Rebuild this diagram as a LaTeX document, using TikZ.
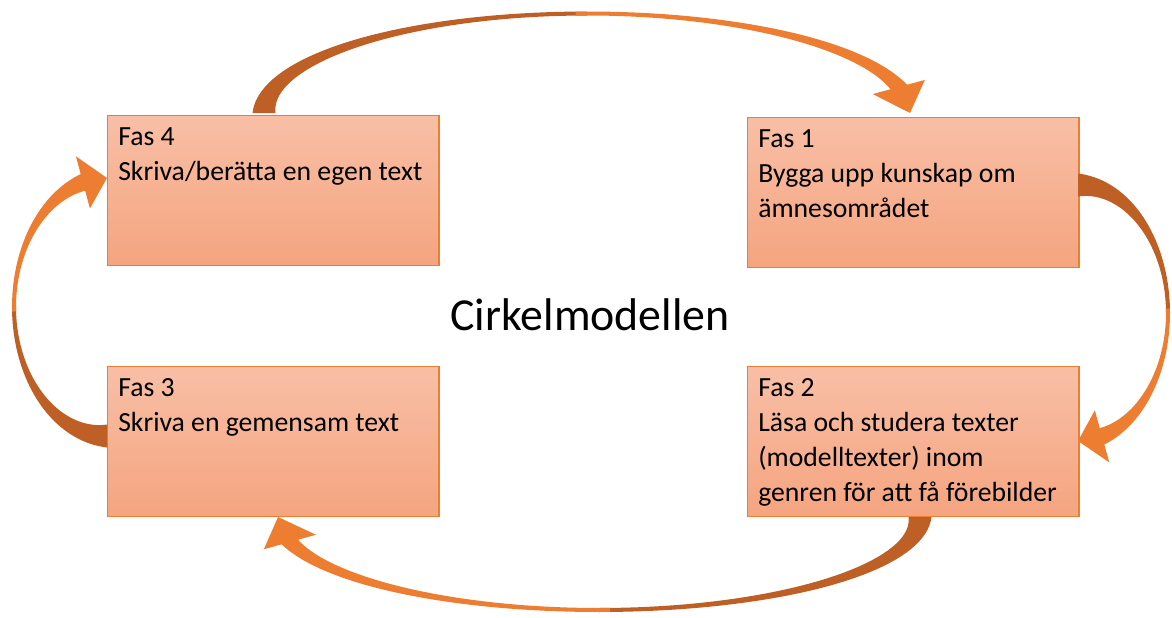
\documentclass[tikz,border=0pt]{standalone}
\usepackage{fontspec}
\setmainfont{Carlito}
\usetikzlibrary{positioning}

\definecolor{fasline}{HTML}{ED7D31}
\definecolor{fastop}{HTML}{F8BFA6}
\definecolor{fasbottom}{HTML}{F5A47F}
\definecolor{pildark}{HTML}{BE5F26}
\definecolor{pilorange}{HTML}{ED7D31}

\tikzset{
  fasbox/.style={draw=fasline, line width=1pt, top color=fastop, bottom color=fasbottom,
    minimum width=235.5pt, minimum height=106.7pt, inner sep=0pt, anchor=north west},
  fastext/.style={anchor=north west, align=left, inner sep=0pt,
    font=\fontsize{19.7}{24.9}\selectfont},
  declare function={tt(\q)=2*(\q-\ths)/(\tht-\ths)-1; hw(\q)=2+9.5*tt(\q)*tt(\q);}
}

% curved block arrow: cx, cy, a, b, start angle, head base angle, tip angle
\newcommand{\bagpil}[7]{%
  \pgfmathsetmacro{\ths}{#5}\pgfmathsetmacro{\tht}{#7}%
  \pgfmathsetmacro{\thm}{(#5+#7)/2}%
  \pgfmathsetmacro{\thn}{\thm-2*sign(#7-#5)}%
  \fill[pildark] plot[domain=#5:\thm, samples=40] ({#1+(#3+hw(\x))*cos(\x)},{#2+(#4+hw(\x))*sin(\x)})
    -- plot[domain=\thm:#5, samples=40] ({#1+(#3-hw(\x))*cos(\x)},{#2+(#4-hw(\x))*sin(\x)}) -- cycle;
  \fill[pilorange] plot[domain=\thn:#6, samples=40] ({#1+(#3+hw(\x))*cos(\x)},{#2+(#4+hw(\x))*sin(\x)})
    -- ({#1+(#3+27)*cos(#6)},{#2+(#4+27)*sin(#6)})
    -- ({#1+#3*cos(#7)},{#2+#4*sin(#7)})
    -- ({#1+(#3-27)*cos(#6)},{#2+(#4-27)*sin(#6)})
    -- plot[domain=#6:\thn, samples=40] ({#1+(#3-hw(\x))*cos(\x)},{#2+(#4-hw(\x))*sin(\x)}) -- cycle;
}

\begin{document}
\begin{tikzpicture}[x=0.025cm, y=-0.025cm]
  \useasboundingbox (0,0) rectangle (1172,618);

  % the four phases
  \node[fasbox] (fas4) at (107,115) {};
  \node[fasbox] (fas1) at (747,117) {};
  \node[fasbox] (fas3) at (107,366) {};
  \node[fasbox] (fas2) at (747,366) {};

  \node[fastext] (t4) at (118,127) {Fas 4\\Skriva/berätta en egen text};
  \node[fastext] (t1) at (758,129) {Fas 1\\Bygga upp kunskap om\\ämnesområdet};
  \node[fastext] (t3) at (118,378) {Fas 3\\Skriva en gemensam text};
  \node[fastext] (t2) at (758,378) {Fas 2\\Läsa och studera texter\\(modelltexter) inom\\genren för att få förebilder};

  \node[font=\fontsize{32.6}{38}\selectfont, inner sep=0pt] (titel) at (590,315) {Cirkelmodellen};

  % arrows between the phases
  \bagpil{587}{113}{323}{99.5}{180}{344.85}{360}
  \bagpil{1078}{313}{90}{128}{270}{434.5}{450}
  \bagpil{599}{517}{321}{93}{0}{164.4}{180}
  \bagpil{107}{307}{93}{129}{90}{255}{270}
\end{tikzpicture}
\end{document}
